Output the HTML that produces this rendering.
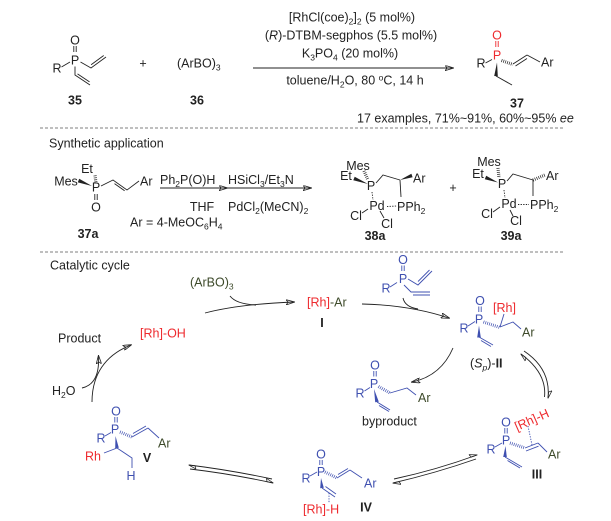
<!DOCTYPE html>
<html><head><meta charset="utf-8"><style>
html,body{margin:0;padding:0;background:#fff}
svg{display:block}
text{font-family:"Liberation Sans",Arial,sans-serif;font-size:12.5px;fill:#222}
.b{font-weight:bold}
.bl{fill:#3f50b0}.rd{fill:#ee2a2e}.gr{fill:#3d4a2a}
line,path,polyline{stroke:#222;stroke-width:0.9;fill:none}
.sb{stroke:#3f50b0}.sr{stroke:#ee2a2e}
.hs{stroke-width:3.2;stroke-dasharray:0.7 1.3}
.dt{stroke-dasharray:1.3 1.3}
.fb{fill:#3f50b0;stroke:none}.fk{fill:#222;stroke:none}.fr{fill:#ee2a2e;stroke:none}
.ds{stroke:#555;stroke-width:0.8;stroke-dasharray:3 2}
</style></head><body>
<svg width="611" height="521" viewBox="0 0 611 521" xmlns="http://www.w3.org/2000/svg">
<defs>
<marker id="a" viewBox="0 0 10 6" refX="9" refY="3" markerWidth="9" markerHeight="5.5" orient="auto" markerUnits="userSpaceOnUse"><path d="M0,0L10,3L0,6L2.5,3z" fill="#222" stroke="none"/></marker>
<marker id="h" viewBox="0 0 10 6" refX="9.5" refY="5" markerWidth="8" markerHeight="5" orient="auto" markerUnits="userSpaceOnUse"><path d="M10,5L0,1L2,5z" fill="#222" stroke="none"/></marker>
</defs>

<!-- ===== Top reaction ===== -->
<!-- 35 -->
<text x="75" y="44.5" text-anchor="middle">O</text>
<line x1="73.8" y1="46" x2="73.8" y2="52"/><line x1="76.2" y1="46" x2="76.2" y2="52"/>
<text x="75" y="64.5" text-anchor="middle">P</text>
<text x="57" y="72.5" text-anchor="middle">R</text>
<line x1="61.5" y1="67" x2="70" y2="62"/>
<polyline points="80.5,62 91,68 106,57"/>
<line x1="91.1" y1="64.7" x2="103.7" y2="55.5"/>
<polyline points="75,66.5 75,75 90,85"/>
<line x1="77.5" y1="73.9" x2="89.5" y2="81.9"/>
<text x="75" y="104.5" text-anchor="middle" class="b">35</text>
<text x="143" y="67.5" text-anchor="middle">+</text>
<text x="177" y="67.5">(ArBO)<tspan dy="3" font-size="8.5">3</tspan></text>
<text x="197" y="104.5" text-anchor="middle" class="b">36</text>

<line x1="253" y1="68" x2="453" y2="68" marker-end="url(#a)"/>
<text x="352" y="21.5" text-anchor="middle">[RhCl(coe)<tspan dy="3" font-size="8.5">2</tspan><tspan dy="-3">]</tspan><tspan dy="3" font-size="8.5">2</tspan><tspan dy="-3"> (5 mol%)</tspan></text>
<text x="351" y="39.5" text-anchor="middle">(<tspan font-style="italic">R</tspan>)-DTBM-segphos (5.5 mol%)</text>
<text x="350" y="57.5" text-anchor="middle">K<tspan dy="3" font-size="8.5">3</tspan><tspan dy="-3">PO</tspan><tspan dy="3" font-size="8.5">4</tspan><tspan dy="-3"> (20 mol%)</tspan></text>
<text x="355" y="84.5" text-anchor="middle">toluene/H<tspan dy="3" font-size="8.5">2</tspan><tspan dy="-3">O, 80 </tspan><tspan dy="-4" font-size="8.5">o</tspan><tspan dy="4">C, 14 h</tspan></text>

<!-- 37 -->
<text x="497" y="39.5" text-anchor="middle" class="rd">O</text>
<line class="sr" x1="495.8" y1="41" x2="495.8" y2="47"/><line class="sr" x1="498.2" y1="41" x2="498.2" y2="47"/>
<text x="497" y="59.5" text-anchor="middle" class="rd">P</text>
<text x="481" y="67.5" text-anchor="middle">R</text>
<line x1="485.5" y1="63" x2="492" y2="59.5"/>
<line class="hs" x1="501.5" y1="60.5" x2="513" y2="64.5"/>
<line x1="513" y1="64" x2="527" y2="55"/>
<line x1="515.5" y1="66" x2="527" y2="58.5"/>
<line x1="527" y1="55" x2="540" y2="62"/>
<text x="541" y="66.5">Ar</text>
<polygon class="fk" points="497,62.5 494.2,76 497.8,76.2"/>
<line x1="496" y1="76" x2="512" y2="85"/>
<text x="517" y="107.5" text-anchor="middle" class="b">37</text>
<text x="357" y="122.5">17 examples, 71%~91%, 60%~95% <tspan font-style="italic">ee</tspan></text>

<line class="ds" x1="40" y1="128" x2="563" y2="128"/>
<line class="ds" x1="40" y1="252" x2="563" y2="252"/>

<!-- ===== Synthetic application ===== -->
<text x="49" y="147.5">Synthetic application</text>
<text x="87" y="173" text-anchor="middle">Et</text>
<text x="66" y="185.5" text-anchor="middle">Mes</text>
<polygon class="fk" points="92,186 79.2,178.7 77.8,182.4"/>
<line class="hs" x1="95" y1="175.5" x2="96" y2="183"/>
<text x="96" y="191.5" text-anchor="middle">P</text>
<line x1="94.8" y1="194" x2="94.8" y2="200"/><line x1="97.2" y1="194" x2="97.2" y2="200"/>
<text x="96" y="211.5" text-anchor="middle">O</text>
<polyline points="101,186 113,180 127,190 139,181"/>
<line x1="114.5" y1="183.6" x2="124.6" y2="190.8"/>
<text x="140" y="185.5">Ar</text>
<text x="130" y="226.5">Ar = 4-MeOC<tspan dy="3" font-size="8.5">6</tspan><tspan dy="-3">H</tspan><tspan dy="3" font-size="8.5">4</tspan></text>
<text x="88" y="238" text-anchor="middle" class="b">37a</text>

<line x1="160" y1="188" x2="227" y2="188" marker-end="url(#a)"/>
<line x1="227" y1="188" x2="311" y2="188" marker-end="url(#a)"/>
<text x="160" y="184">Ph<tspan dy="3" font-size="8.5">2</tspan><tspan dy="-3">P(O)H</tspan></text>
<text x="202" y="211" text-anchor="middle">THF</text>
<text x="228" y="184">HSiCl<tspan dy="3" font-size="8.5">3</tspan><tspan dy="-3">/Et</tspan><tspan dy="3" font-size="8.5">3</tspan><tspan dy="-3">N</tspan></text>
<text x="228" y="211">PdCl<tspan dy="3" font-size="8.5">2</tspan><tspan dy="-3">(MeCN)</tspan><tspan dy="3" font-size="8.5">2</tspan></text>

<!-- 38a -->
<text x="358" y="170" text-anchor="middle">Mes</text>
<text x="346" y="180" text-anchor="middle">Et</text>
<polygon class="fk" points="368,184 354.7,176.7 353.3,180.3"/>
<line class="hs" x1="364" y1="171" x2="368" y2="180"/>
<text x="371" y="190" text-anchor="middle">P</text>
<polyline points="376,183 383,175 400,180"/>
<polygon class="fk" points="400,180 412.6,177.2 411.4,173.8"/>
<text x="413" y="182.5">Ar</text>
<line x1="400" y1="180" x2="401" y2="197"/>
<text x="397" y="211">PPh<tspan dy="3" font-size="8.5">2</tspan></text>
<text x="377" y="210" text-anchor="middle">Pd</text>
<line class="dt" x1="372" y1="192" x2="373" y2="200"/>
<line class="dt" x1="387" y1="206.5" x2="397" y2="206"/>
<text x="356" y="220" text-anchor="middle">Cl</text>
<line x1="362" y1="213" x2="368" y2="209"/>
<text x="387" y="228" text-anchor="middle">Cl</text>
<line x1="380" y1="211" x2="384" y2="218"/>
<text x="375" y="240" text-anchor="middle" class="b">38a</text>

<text x="453" y="192" text-anchor="middle">+</text>

<!-- 39a -->
<text x="489" y="166" text-anchor="middle">Mes</text>
<text x="478" y="178" text-anchor="middle">Et</text>
<polygon class="fk" points="498,182.5 486.2,175.7 484.8,179.3"/>
<line class="hs" x1="498" y1="168" x2="499" y2="178"/>
<text x="502" y="188" text-anchor="middle">P</text>
<polyline points="507,181 513,174 533,180"/>
<line class="hs" x1="533" y1="180" x2="545" y2="175"/>
<text x="546" y="180">Ar</text>
<line x1="533" y1="180" x2="533" y2="196"/>
<text x="530" y="209">PPh<tspan dy="3" font-size="8.5">2</tspan></text>
<text x="509" y="208" text-anchor="middle">Pd</text>
<line class="dt" x1="504" y1="190" x2="505" y2="198"/>
<line class="dt" x1="518" y1="204.5" x2="529" y2="204.5"/>
<text x="487" y="218" text-anchor="middle">Cl</text>
<line x1="493" y1="212" x2="500" y2="207"/>
<text x="516" y="225" text-anchor="middle">Cl</text>
<line x1="510" y1="210" x2="513" y2="216"/>
<text x="511" y="240" text-anchor="middle" class="b">39a</text>

<!-- ===== Catalytic cycle ===== -->
<text x="50" y="269.5">Catalytic cycle</text>
<text x="190" y="286.5" class="gr">(ArBO)<tspan dy="3" font-size="8.5">3</tspan></text>
<path d="M205,313 Q240,304 294,302" marker-end="url(#a)"/>
<path d="M230,296 Q236,304 256,305"/>
<text x="140" y="337.5" class="rd">[Rh]-OH</text>
<text x="58" y="342.5">Product</text>
<text x="52" y="395">H<tspan dy="3" font-size="8.5">2</tspan><tspan dy="-3">O</tspan></text>
<path d="M92,402 C92,375 105,355 131,345" marker-end="url(#a)"/>
<path d="M82,388 Q100,384 98.5,356" marker-end="url(#a)"/>

<text x="307" y="306.5"><tspan class="rd">[Rh]</tspan><tspan class="gr">-Ar</tspan></text>
<text x="322" y="327" text-anchor="middle" class="b">I</text>
<path d="M362,304 Q410,305 449,318" marker-end="url(#a)"/>
<path d="M403,298 Q405,307 418,309"/>

<!-- substrate (blue) -->
<text x="403" y="264" text-anchor="middle" class="bl">O</text>
<line class="sb" x1="401.8" y1="265.5" x2="401.8" y2="271"/><line class="sb" x1="404.2" y1="265.5" x2="404.2" y2="271"/>
<text x="403" y="283" text-anchor="middle" class="bl">P</text>
<text x="386" y="292.5" text-anchor="middle" class="bl">R</text>
<line class="sb" x1="390" y1="287" x2="397" y2="282.5"/>
<polyline class="sb" points="408,279 418,285 432,271"/>
<line class="sb" x1="418" y1="281.5" x2="429.5" y2="270"/>
<polyline class="sb" points="404,285 411,292 430,292"/>
<line class="sb" x1="413" y1="295" x2="430" y2="295"/>

<!-- II -->
<text x="480" y="305" text-anchor="middle" class="bl">O</text>
<line class="sb" x1="478.8" y1="306.5" x2="478.8" y2="312"/><line class="sb" x1="481.2" y1="306.5" x2="481.2" y2="312"/>
<text x="479" y="323.5" text-anchor="middle" class="bl">P</text>
<text x="464" y="332.5" text-anchor="middle" class="bl">R</text>
<line class="sb" x1="468" y1="326" x2="475" y2="321.5"/>
<line class="sb hs" x1="483.5" y1="322" x2="500" y2="327.5"/>
<text x="493" y="312" class="rd">[Rh]</text>
<line class="sb" x1="500" y1="327" x2="504" y2="314"/>
<polyline class="sb" points="500,327 513,322 521,329"/>
<text x="522" y="336.5" class="gr">Ar</text>
<polygon class="fb" points="479,325.5 477.2,337.5 480.8,337.5"/>
<line class="sb" x1="479" y1="337" x2="493" y2="345"/>
<line class="sb" x1="481" y1="340.5" x2="491" y2="346.5"/>
<text x="470" y="367.5">(<tspan font-style="italic">S</tspan><tspan dy="3" font-size="8.5" font-style="italic">p</tspan><tspan dy="-3">)-</tspan><tspan class="b">II</tspan></text>

<path d="M453,348 Q441,376 412,382" marker-end="url(#a)"/>
<path d="M524,351 Q551,369 548,398" marker-end="url(#h)"/>
<path d="M544.5,397 Q547,373 521,354" marker-end="url(#h)"/>

<!-- byproduct -->
<text x="375" y="369.5" text-anchor="middle" class="bl">O</text>
<line class="sb" x1="373.8" y1="371" x2="373.8" y2="376.5"/><line class="sb" x1="376.2" y1="371" x2="376.2" y2="376.5"/>
<text x="374" y="388" text-anchor="middle" class="bl">P</text>
<text x="360" y="397.5" text-anchor="middle" class="bl">R</text>
<line class="sb" x1="364.5" y1="391" x2="370" y2="387.5"/>
<line class="sb hs" x1="378.5" y1="386.5" x2="390" y2="393"/>
<polyline class="sb" points="390,393 407,388 416,395"/>
<text x="418" y="402" class="gr">Ar</text>
<polygon class="fb" points="374,389 375.2,402.3 378.8,401.7"/>
<line class="sb" x1="377" y1="402" x2="390" y2="410"/>
<line class="sb" x1="379" y1="405.5" x2="389" y2="411.5"/>
<text x="362" y="425.5">byproduct</text>

<!-- III -->
<text x="506" y="426.5" text-anchor="middle" class="bl">O</text>
<line class="sb" x1="504.8" y1="428" x2="504.8" y2="433.5"/><line class="sb" x1="507.2" y1="428" x2="507.2" y2="433.5"/>
<text x="506" y="444.5" text-anchor="middle" class="bl">P</text>
<text x="491" y="453.5" text-anchor="middle" class="bl">R</text>
<line class="sb" x1="495" y1="447" x2="502" y2="443"/>
<line class="sb hs" x1="510" y1="443" x2="525" y2="448"/>
<line class="sb" x1="525" y1="448" x2="538" y2="443"/>
<line class="sb" x1="526" y1="451" x2="538.5" y2="446.2"/>
<line class="sb" x1="538" y1="443" x2="547" y2="452"/>
<text x="548" y="458.5" class="gr">Ar</text>
<text x="517" y="431" class="rd" transform="rotate(-24 517 431)">[Rh]-H</text>
<line class="sb dt" x1="528" y1="426" x2="532" y2="445"/>
<polygon class="fb" points="505.5,446 503.2,457 506.8,457"/>
<line class="sb" x1="505" y1="457" x2="522" y2="467"/>
<line class="sb" x1="507.5" y1="460.5" x2="520" y2="468"/>
<text x="537" y="478.5" text-anchor="middle" class="b">III</text>

<path d="M394,479 Q436,470 477,455" marker-end="url(#h)"/>
<path d="M476,459 Q436,473 393,483" marker-end="url(#h)"/>

<!-- IV -->
<text x="321" y="458.5" text-anchor="middle" class="bl">O</text>
<line class="sb" x1="319.8" y1="460" x2="319.8" y2="465"/><line class="sb" x1="322.2" y1="460" x2="322.2" y2="465"/>
<text x="321" y="476" text-anchor="middle" class="bl">P</text>
<text x="306" y="482.5" text-anchor="middle" class="bl">R</text>
<line class="sb" x1="310" y1="476" x2="317" y2="472"/>
<line class="sb hs" x1="325" y1="472" x2="337" y2="478"/>
<line class="sb" x1="337" y1="478" x2="350" y2="470"/>
<line class="sb" x1="338" y1="474.5" x2="348" y2="468.5"/>
<line class="sb" x1="350" y1="470" x2="362" y2="478"/>
<text x="364" y="487.5" class="bl">Ar</text>
<polygon class="fb" points="321,478 320.2,488.2 323.8,487.8"/>
<line class="sb" x1="322" y1="488" x2="335" y2="497"/>
<line class="sb" x1="325.5" y1="486.5" x2="336" y2="494"/>
<line class="sb dt" x1="329" y1="493" x2="329" y2="503"/>
<text x="303" y="513.5" class="rd">[Rh]-H</text>
<text x="366" y="511.5" text-anchor="middle" class="b">IV</text>

<path d="M272,479 Q230,470 189,465" marker-end="url(#h)"/>
<path d="M190,469 Q232,474 273,483" marker-end="url(#h)"/>

<!-- V -->
<text x="116" y="415.5" text-anchor="middle" class="bl">O</text>
<line class="sb" x1="114.8" y1="417" x2="114.8" y2="422.5"/><line class="sb" x1="117.2" y1="417" x2="117.2" y2="422.5"/>
<text x="115" y="433.5" text-anchor="middle" class="bl">P</text>
<text x="101" y="442.5" text-anchor="middle" class="bl">R</text>
<line class="sb" x1="105" y1="436" x2="111" y2="432.5"/>
<line class="sb hs" x1="120" y1="432" x2="132" y2="437"/>
<line class="sb" x1="132" y1="437" x2="148" y2="428"/>
<line class="sb" x1="133" y1="433.5" x2="146" y2="426"/>
<line class="sb" x1="148" y1="428" x2="159" y2="438"/>
<text x="158" y="447.5" class="gr">Ar</text>
<polygon class="fb" points="115.5,436 115.2,448.2 118.8,447.8"/>
<line class="sb" x1="117" y1="448" x2="104" y2="453"/>
<text x="85" y="460.5" class="rd">Rh</text>
<polyline class="sb" points="117,448 132,458 132,468"/>
<text x="131" y="480" text-anchor="middle" class="bl">H</text>
<text x="147" y="462" text-anchor="middle" class="b">V</text>
</svg>
</body></html>
